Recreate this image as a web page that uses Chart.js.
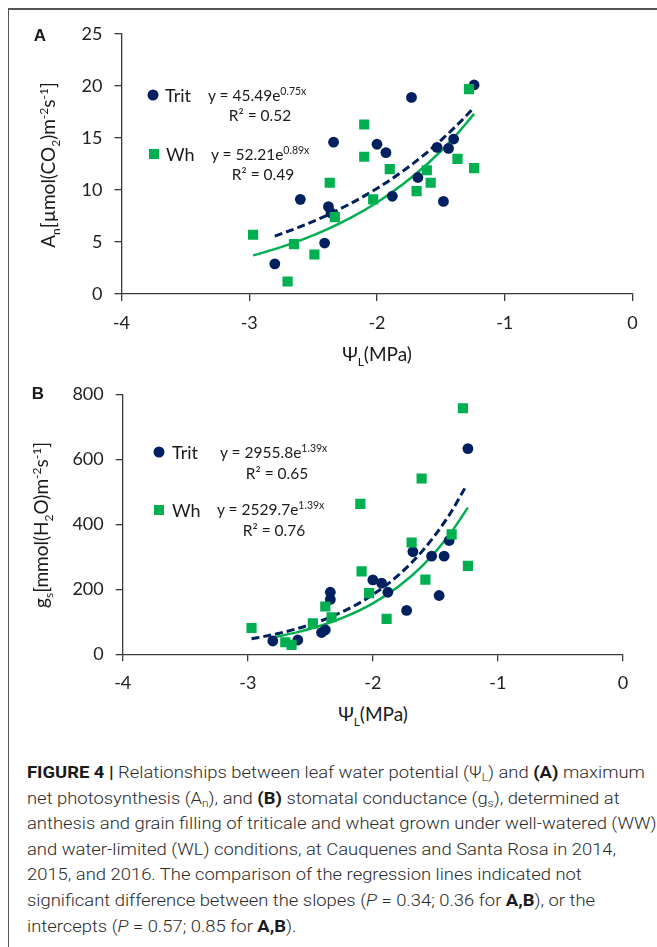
<!DOCTYPE html>
<html>
<head>
<meta charset="utf-8">
<script src="https://cdn.jsdelivr.net/npm/chart.js@4.4.1/dist/chart.umd.min.js"></script>
<style>
  html, body { margin: 0; padding: 0; background: #fff; }
  body { width: 657px; height: 947px; position: relative; overflow: hidden; font-family: Lato, "Open Sans", sans-serif; color: #1a1a1a; }
  #frame { position: absolute; left: 8px; top: 8px; width: 660px; height: 940px; border-top: 2px solid #555; border-left: 1.5px solid #555; box-sizing: border-box; }
  .cv { position: absolute; left: 0; width: 657px; }
  .t { position: absolute; white-space: nowrap; line-height: 1; }
  .mid { transform: translate(-50%, -50%); }
  .lv { transform: translate(0, -50%); }
  .rot { transform: translate(-50%, -50%) rotate(-90deg); }
  .panel { font-family: Arial, "Liberation Sans", sans-serif; font-weight: bold; font-size: 17px; }
  .axt { font-size: 19px; }
  .axt sub, .axt sup { font-size: 12px; }
  .leg { font-size: 18px; }
  .eq { font-size: 15.5px; }
  .eq sup { font-size: 10.5px; vertical-align: 6px; line-height: 0; }
  .dot { position: absolute; width: 11px; height: 11px; border-radius: 50%; background: #002060; transform: translate(-50%, -50%); }
  .sq { position: absolute; width: 10px; height: 10px; background: #00B050; transform: translate(-50%, -50%); }
  #caption { position: absolute; left: 27px; top: 760px; font-family: Roboto, "Liberation Sans", sans-serif; font-weight: 300; font-size: 16.3px; line-height: 25.6px; color: #2a2a2a; white-space: nowrap; transform-origin: 0 0; transform: scaleX(1.13); }
  #caption b { font-weight: 700; color: #1a1a1a; }
  #caption sub { font-size: 10.5px; line-height: 0; vertical-align: -3px; }
</style>
</head>
<body>
<div id="frame"></div>

<div class="cv" style="top:0px;height:340px;"><canvas id="chartA"></canvas></div>
<div class="cv" style="top:360px;height:340px;"><canvas id="chartB"></canvas></div>

<!-- Panel A texts -->
<div class="t panel mid" style="left:40px;top:35px;">A</div>
<div class="t axt rot" style="left:50px;top:165px;">A<sub>n</sub>[µmol(CO<sub>2</sub>)m<sup>-2</sup>s<sup>-1</sup>]</div>
<div class="t axt mid" style="left:377px;top:356px;">Ψ<sub>L</sub>(MPa)</div>
<div class="dot" style="left:153px;top:95px;"></div>
<div class="t leg lv" style="left:165px;top:95px;">Trit</div>
<div class="t eq lv" style="left:208px;top:96px;">y = 45.49e<sup>0.75x</sup></div>
<div class="t eq mid" style="left:260px;top:116px;">R² = 0.52</div>
<div class="sq" style="left:154px;top:154px;"></div>
<div class="t leg lv" style="left:166px;top:154px;">Wh</div>
<div class="t eq lv" style="left:211px;top:155px;">y = 52.21e<sup>0.89x</sup></div>
<div class="t eq mid" style="left:263px;top:175px;">R² = 0.49</div>

<!-- Panel B texts -->
<div class="t panel mid" style="left:38px;top:393px;">B</div>
<div class="t axt rot" style="left:43px;top:525px;">g<sub>s</sub>[mmol(H<sub>2</sub>O)m<sup>-2</sup>s<sup>-1</sup>]</div>
<div class="t axt mid" style="left:373px;top:716px;">Ψ<sub>L</sub>(MPa)</div>
<div class="dot" style="left:159px;top:452px;"></div>
<div class="t leg lv" style="left:172px;top:452px;">Trit</div>
<div class="t eq lv" style="left:220px;top:453px;">y = 2955.8e<sup>1.39x</sup></div>
<div class="t eq mid" style="left:277px;top:474px;">R² = 0.65</div>
<div class="sq" style="left:159px;top:510px;"></div>
<div class="t leg lv" style="left:172px;top:510px;">Wh</div>
<div class="t eq lv" style="left:217px;top:510px;">y = 2529.7e<sup>1.39x</sup></div>
<div class="t eq mid" style="left:274px;top:531px;">R² = 0.76</div>

<div id="caption"><b>FIGURE 4 |</b> Relationships between leaf water potential (Ψ<sub>L</sub>) and <b>(A)</b> maximum<br>net photosynthesis (A<sub>n</sub>), and <b>(B)</b> stomatal conductance (g<sub>s</sub>), determined at<br>anthesis and grain filling of triticale and wheat grown under well-watered (WW)<br>and water-limited (WL) conditions, at Cauquenes and Santa Rosa in 2014,<br>2015, and 2016. The comparison of the regression lines indicated not<br>significant difference between the slopes (<i>P</i> = 0.34; 0.36 for <b>A,B</b>), or the<br>intercepts (<i>P</i> = 0.57; 0.85 for <b>A,B</b>).</div>

<script>
// ---------- DATA ----------
const xTickValues = [-4, -3, -2, -1, 0];
const yTicksA = [0, 5, 10, 15, 20, 25];
const yTicksB = [0, 200, 400, 600, 800];

// Panel A: net photosynthesis (An)
const tritA_x = [-2.80, -2.60, -2.41, -2.38, -2.36, -2.34, -2.00, -1.93, -1.88, -1.73, -1.68, -1.53, -1.48, -1.44, -1.40, -1.24];
const tritA_y = [2.9, 9.1, 4.9, 8.4, 7.8, 14.6, 14.4, 13.6, 9.4, 18.9, 11.2, 14.1, 8.9, 14.0, 14.9, 20.1];
const whA_x = [-2.97, -2.70, -2.65, -2.49, -2.37, -2.33, -2.10, -2.10, -2.03, -1.90, -1.69, -1.61, -1.58, -1.37, -1.28, -1.24];
const whA_y = [5.7, 1.2, 4.8, 3.8, 10.7, 7.4, 16.3, 13.2, 9.1, 12.0, 9.9, 11.9, 10.7, 13.0, 19.7, 12.1];

// Panel A trend curves
const tritA_fitX = [-2.8, -2.6, -2.4, -2.2, -2.0, -1.8, -1.6, -1.4, -1.25];
const tritA_fitY = [5.57, 6.47, 7.52, 8.74, 10.15, 11.79, 13.70, 15.92, 17.81];
const whA_fitX = [-2.97, -2.8, -2.6, -2.4, -2.2, -2.0, -1.8, -1.6, -1.4, -1.24];
const whA_fitY = [3.71, 4.32, 5.16, 6.17, 7.37, 8.80, 10.52, 12.57, 15.02, 17.32];

// Panel B: stomatal conductance (gs)
const tritB_x = [-2.80, -2.60, -2.41, -2.38, -2.34, -2.34, -2.00, -1.93, -1.88, -1.73, -1.68, -1.53, -1.47, -1.43, -1.39, -1.24];
const tritB_y = [41, 44, 67, 75, 191, 169, 229, 219, 191, 135, 316, 302, 181, 302, 350, 633];
const whB_x = [-2.97, -2.70, -2.65, -2.48, -2.38, -2.33, -2.10, -2.09, -2.03, -1.89, -1.69, -1.61, -1.58, -1.37, -1.28, -1.24];
const whB_y = [81, 37, 29, 95, 147, 114, 463, 255, 188, 109, 344, 541, 230, 369, 757, 272];

// Panel B trend curves
const tritB_fitX = [-2.97, -2.8, -2.6, -2.4, -2.2, -2.0, -1.8, -1.6, -1.4, -1.25];
const tritB_fitY = [47.6, 60.3, 79.6, 105.2, 138.9, 183.4, 242.1, 319.8, 422.2, 520.4];
const whB_fitX = [-2.8, -2.6, -2.4, -2.2, -2.0, -1.8, -1.6, -1.4, -1.24];
const whB_fitY = [51.6, 68.2, 90.0, 118.9, 156.9, 207.2, 273.7, 361.4, 451.4];

// ---------- STYLE ----------
const NAVY = '#002060';
const GREEN = '#00B050';
const AXIS = '#3a3a3a';

function pts(xs, ys) { return xs.map((x, i) => ({ x: x, y: ys[i] })); }

function makeChart(id, cfg) {
  const scatterSets = [
    { label: 'Trit', data: pts(cfg.tx, cfg.ty), pointStyle: 'circle', pointRadius: 5.4, pointBackgroundColor: NAVY, pointBorderWidth: 0, borderColor: NAVY, showLine: false, order: 1 },
    { label: 'Wh', data: pts(cfg.wx, cfg.wy), pointStyle: 'rect', pointRadius: 7.2, pointBackgroundColor: GREEN, pointBorderWidth: 0, borderColor: GREEN, showLine: false, order: 0 },
    { label: 'Trit fit', data: pts(cfg.tfx, cfg.tfy), showLine: true, borderColor: NAVY, borderWidth: 3, borderDash: [8, 4], pointRadius: 0, fill: false, cubicInterpolationMode: 'monotone', order: 3 },
    { label: 'Wh fit', data: pts(cfg.wfx, cfg.wfy), showLine: true, borderColor: GREEN, borderWidth: 2.5, pointRadius: 0, fill: false, cubicInterpolationMode: 'monotone', order: 2 }
  ];
  return new Chart(document.getElementById(id), {
    type: 'scatter',
    data: { datasets: scatterSets },
    options: {
      responsive: true,
      maintainAspectRatio: false,
      animation: false,
      events: [],
      layout: { padding: { top: cfg.padTop, right: cfg.padRight, left: 0, bottom: 0 } },
      plugins: { legend: { display: false }, tooltip: { enabled: false } },
      scales: {
        x: {
          type: 'linear', min: -4, max: 0,
          afterBuildTicks: (s) => { s.ticks = xTickValues.map(v => ({ value: v })); },
          afterFit: (s) => { s.height = cfg.xHeight; },
          grid: { drawOnChartArea: false, drawTicks: true, tickLength: 7, color: AXIS, lineWidth: 1.3 },
          border: { display: true, color: AXIS, width: 1.3 },
          ticks: { color: '#222', font: { family: 'Lato', size: 18 }, padding: 11, maxRotation: 0 }
        },
        y: {
          type: 'linear', min: cfg.yTicks[0], max: cfg.yTicks[cfg.yTicks.length - 1],
          afterBuildTicks: (s) => { s.ticks = cfg.yTicks.map(v => ({ value: v })); },
          afterFit: (s) => { s.width = cfg.yWidth; },
          grid: { drawOnChartArea: false, drawTicks: true, tickLength: 7, color: AXIS, lineWidth: 1.3 },
          border: { display: true, color: AXIS, width: 1.3 },
          ticks: { color: '#222', font: { family: 'Lato', size: 18 }, padding: 12 }
        }
      }
    }
  });
}

makeChart('chartA', {
  tx: tritA_x, ty: tritA_y, wx: whA_x, wy: whA_y,
  tfx: tritA_fitX, tfy: tritA_fitY, wfx: whA_fitX, wfy: whA_fitY,
  yTicks: yTicksA, padTop: 34, padRight: 24.5, yWidth: 121.5, xHeight: 46
});
makeChart('chartB', {
  tx: tritB_x, ty: tritB_y, wx: whB_x, wy: whB_y,
  tfx: tritB_fitX, tfy: tritB_fitY, wfx: whB_fitX, wfy: whB_fitY,
  yTicks: yTicksB, padTop: 34.3, padRight: 34, yWidth: 122.7, xHeight: 45.7
});
</script>
</body>
</html>
